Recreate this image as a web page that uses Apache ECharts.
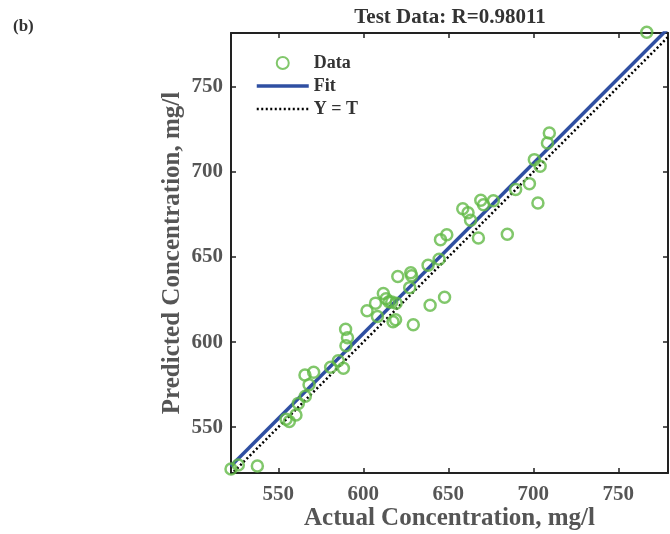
<!DOCTYPE html>
<html>
<head>
<meta charset="utf-8">
<script src="https://cdn.jsdelivr.net/npm/echarts@6/dist/echarts.min.js"></script>
<style>
  html, body { margin: 0; padding: 0; background: #fff; }
  #chart { width: 670px; height: 534px; }
</style>
</head>
<body>
<div id="chart"></div>
<script>
// test data
var actual = [
    522.2, 526.5, 537.7, 554.6, 556.5, 560.4, 561.8, 565.9, 568.1, 565.7,
    570.8, 580.8, 585.3, 588.3, 589.8, 590.7, 589.6, 602.2, 608.3, 607.2,
    611.8, 613.4, 615.1, 616.7, 619.3, 617.5, 619.0, 629.4, 620.3, 627.9,
    628.4, 627.3, 638.1, 644.6, 639.3, 647.8, 645.4, 649.1, 658.5, 661.6,
    663.1, 667.7, 669.1, 670.7, 676.5, 684.7, 689.6, 697.7, 702.7, 700.6,
    704.0, 709.4, 708.3, 766.7
];
var predicted = [
    525.5, 527.8, 527.2, 554.7, 553.3, 557.2, 564.0, 568.2, 574.9, 580.7,
    582.3, 585.2, 589.0, 584.7, 597.8, 602.5, 607.5, 618.4, 615.0, 622.9,
    628.5, 625.5, 623.7, 623.5, 622.9, 611.9, 613.1, 610.2, 638.6, 640.7,
    639.0, 632.0, 645.2, 648.7, 621.7, 626.3, 660.2, 663.1, 678.3, 676.0,
    671.6, 661.2, 683.4, 680.7, 683.1, 663.4, 689.6, 693.1, 681.7, 707.2,
    703.3, 722.9, 717.0, 782.1
];

var fitX = [522, 779];
var fitY = [527, 784];
var refX = [522, 779];
var refY = [522, 779];

var xTicks = [550, 600, 650, 700, 750];
var yTicks = [550, 600, 650, 700, 750];

var font = 'Liberation Serif';

var pairs = function (xs, ys) {
    return xs.map(function (v, i) { return [v, ys[i]]; });
};

var myChart = echarts.init(document.getElementById('chart'));

var axisBase = {
    type: 'value',
    splitLine: { show: false },
    axisLine: { show: true, lineStyle: { color: '#222', width: 2 } },
    axisTick: { show: true, inside: true, length: 5, lineStyle: { color: '#222', width: 1.5 } }
};

function xAxisOf(pos, labels) {
    return Object.assign({}, axisBase, {
        position: pos,
        min: 522.2,
        max: 779.2,
        name: labels ? 'Actual Concentration, mg/l' : '',
        nameLocation: 'middle',
        nameGap: 33,
        nameMoveOverlap: false,
        nameTextStyle: { fontFamily: font, fontWeight: 'bold', fontSize: 25, color: '#555' },
        axisTick: Object.assign({}, axisBase.axisTick, { customValues: xTicks }),
        axisLabel: {
            show: labels, customValues: xTicks, margin: 11,
            fontFamily: font, fontWeight: 'bold', fontSize: 21, color: '#555'
        }
    });
}

function yAxisOf(pos, labels) {
    return Object.assign({}, axisBase, {
        position: pos,
        min: 523.1,
        max: 781.6,
        name: labels ? 'Predicted Concentration, mg/l' : '',
        nameLocation: 'middle',
        nameGap: 46,
        nameMoveOverlap: false,
        nameTextStyle: { fontFamily: font, fontWeight: 'bold', fontSize: 25, color: '#555' },
        axisTick: Object.assign({}, axisBase.axisTick, { customValues: yTicks }),
        axisLabel: {
            show: labels, customValues: yTicks, margin: 8,
            fontFamily: font, fontWeight: 'bold', fontSize: 21, color: '#555'
        }
    });
}

option = {
    backgroundColor: '#fff',
    animation: false,
    title: {
        text: 'Test Data: R=0.98011',
        left: 450,
        top: 7,
        padding: 0,
        textAlign: 'center',
        textStyle: { fontFamily: font, fontWeight: 'bold', fontSize: 21, color: '#333' }
    },
    graphic: [{
        type: 'text',
        left: 13,
        top: 18,
        style: { text: '(b)', fontFamily: font, fontWeight: 'bold', fontSize: 17, fill: '#333' }
    }],
    legend: {
        orient: 'vertical',
        left: 255,
        top: 54,
        padding: 0,
        itemWidth: 52,
        itemHeight: 12,
        itemGap: 5,
        data: [
            { name: 'Data' },
            { name: 'Fit', itemStyle: { opacity: 0 }, lineStyle: { width: 3.5 } },
            { name: 'Y = T', itemStyle: { opacity: 0 }, lineStyle: { width: 2.5 } }
        ],
        textStyle: { fontFamily: font, fontWeight: 'bold', fontSize: 18, color: '#333', lineHeight: 18 }
    },
    grid: { left: 231, right: 2, top: 33, bottom: 61, outerBoundsMode: 'none' },
    xAxis: [xAxisOf('bottom', true), xAxisOf('top', false)],
    yAxis: [yAxisOf('left', true), yAxisOf('right', false)],
    series: [
        {
            name: 'Fit',
            type: 'line',
            data: pairs(fitX, fitY),
            symbol: 'none',
            lineStyle: { color: '#2f4fa2', width: 3.5 },
            itemStyle: { color: '#2f4fa2' },
            z: 3
        },
        {
            name: 'Y = T',
            type: 'line',
            data: pairs(refX, refY),
            symbol: 'none',
            lineStyle: { color: '#000', width: 2.5, type: [2, 2.5] },
            itemStyle: { color: '#000' },
            z: 2
        },
        {
            name: 'Data',
            type: 'scatter',
            data: pairs(actual, predicted),
            symbol: 'circle',
            symbolSize: 11,
            clip: false,
            itemStyle: { color: 'rgba(0,0,0,0)', borderColor: '#62b946', borderWidth: 2.5 },
            z: 4
        }
    ]
};

myChart.setOption(option);
</script>
</body>
</html>
